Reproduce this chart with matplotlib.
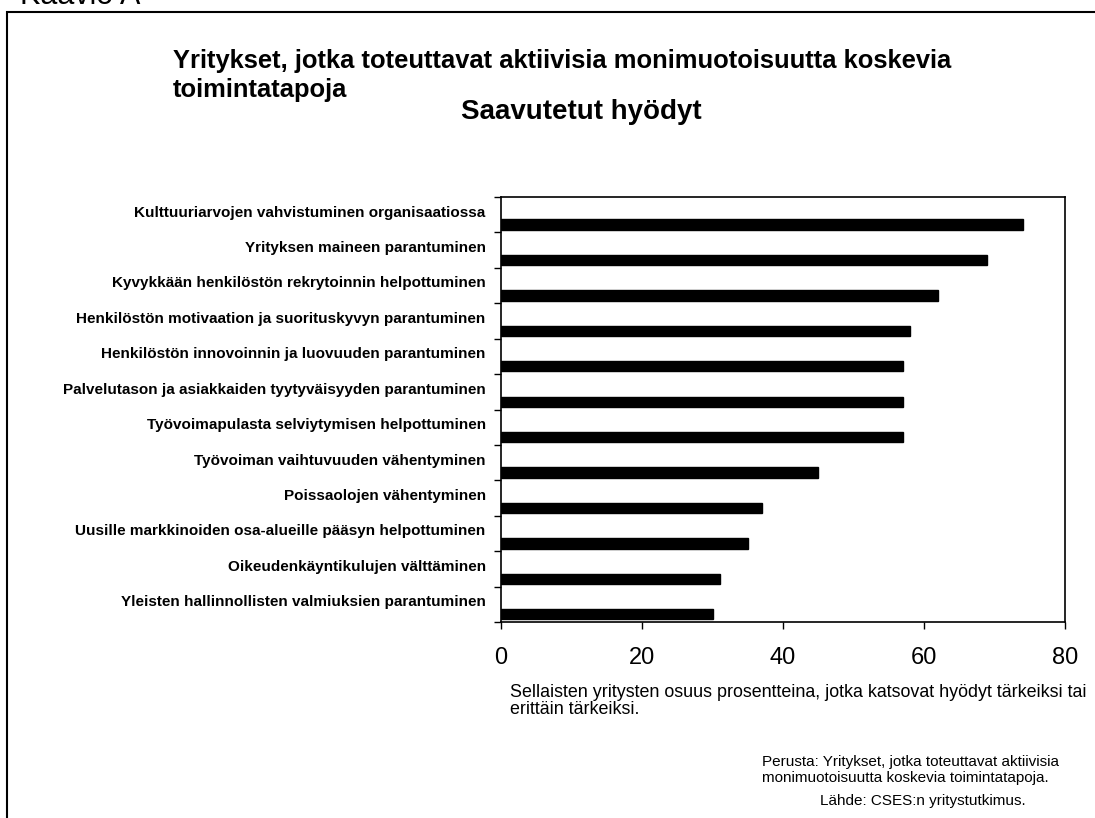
import matplotlib

matplotlib.use("Agg")
import matplotlib.pyplot as plt
from matplotlib.patches import Rectangle


categories = [
    "Kulttuuriarvojen vahvistuminen organisaatiossa",
    "Yrityksen maineen parantuminen",
    "Kyvykkään henkilöstön rekrytoinnin helpottuminen",
    "Henkilöstön motivaation ja suorituskyvyn parantuminen",
    "Henkilöstön innovoinnin ja luovuuden parantuminen",
    "Palvelutason ja asiakkaiden tyytyväisyyden parantuminen",
    "Työvoimapulasta selviytymisen helpottuminen",
    "Työvoiman vaihtuvuuden vähentyminen",
    "Poissaolojen vähentyminen",
    "Uusille markkinoiden osa-alueille pääsyn helpottuminen",
    "Oikeudenkäyntikulujen välttäminen",
    "Yleisten hallinnollisten valmiuksien parantuminen",
]
shares = [74, 69, 62, 58, 57, 57, 57, 45, 37, 35, 31, 30]
x_ticks = [0, 20, 40, 60, 80]
title_lines = [
    "Yritykset, jotka toteuttavat aktiivisia monimuotoisuutta koskevia",
    "toimintatapoja",
]

plt.rcParams["font.family"] = ["Liberation Sans", "DejaVu Sans"]

W, H = 1095, 818
fig = plt.figure(figsize=(W / 100, H / 100), dpi=100)


def fx(px):
    return px / W


def fy(py):
    return 1 - py / H


# outer frame, open to the right and bottom like the cropped original
fig.add_artist(
    Rectangle(
        (fx(7), -0.1), 1.2, fy(12) + 0.1,
        transform=fig.transFigure, fill=False, edgecolor="black",
        linewidth=1.5, clip_on=False,
    )
)
fig.text(fx(20), fy(4), "Kaavio A", fontsize=22, ha="left", va="baseline")

# title lines drawn separately so the second line sits beside the subtitle
for line, y_px in zip(title_lines, (61, 90)):
    fig.text(fx(173), fy(y_px), line, fontsize=18.4, fontweight="bold",
             ha="left", va="center")
fig.text(
    fx(581), fy(112), "Saavutetut hyödyt",
    fontsize=20, fontweight="bold", ha="center", va="center",
)

ax = fig.add_axes([fx(501), fy(622), fx(1065 - 501), (622 - 197) / H])
positions = range(len(categories))
ax.barh(
    [p + 0.28 for p in positions], shares, height=0.29,
    color="black", edgecolor="black",
)
ax.set_xlim(0, 80)
ax.set_ylim(len(categories) - 0.5, -0.5)

ax.set_xticks(x_ticks)
ax.set_xticklabels([str(t) for t in x_ticks], fontsize=17)
ax.tick_params(axis="x", direction="out", length=5, width=1, pad=13)

ax.set_yticks([p - 0.1 for p in positions])
ax.set_yticklabels(categories, fontsize=11, fontweight="bold")
ax.set_yticks([p - 0.5 for p in range(len(categories) + 1)], minor=True)
ax.tick_params(axis="y", which="major", length=0, pad=11)
ax.tick_params(axis="y", which="minor", direction="out", length=5, width=1)

for spine in ax.spines.values():
    spine.set_linewidth(1.2)
    spine.set_color("black")

fig.text(
    fx(510), fy(701),
    "Sellaisten yritysten osuus prosentteina, jotka katsovat hyödyt tärkeiksi tai\nerittäin tärkeiksi.",
    fontsize=12.9, ha="left", va="center", linespacing=1.05,
)
fig.text(
    fx(762), fy(770),
    "Perusta: Yritykset, jotka toteuttavat aktiivisia\nmonimuotoisuutta koskevia toimintatapoja.",
    fontsize=11, ha="left", va="center", linespacing=1.1,
)
fig.text(fx(820), fy(801), "Lähde: CSES:n yritystutkimus.", fontsize=11, ha="left", va="center")

fig.savefig("out.png", dpi=100)
